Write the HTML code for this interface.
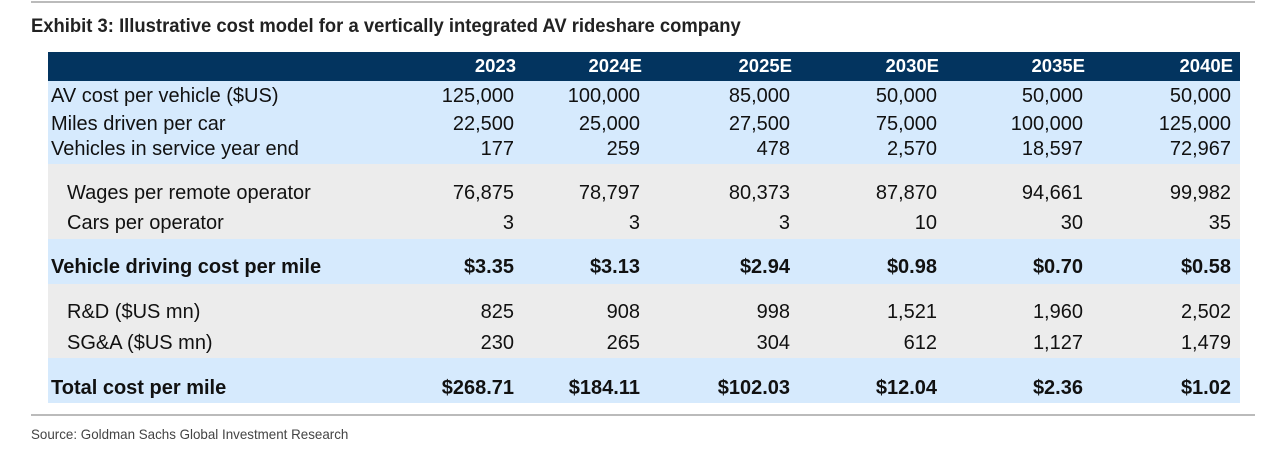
<!DOCTYPE html>
<html><head><meta charset="utf-8"><style>
body{margin:0;width:1265px;height:449px;background:#fff;position:relative;overflow:hidden;font-family:"Liberation Sans",sans-serif}
.abs{position:absolute}
.t{position:absolute;font-size:20px;color:#111;white-space:nowrap;line-height:1}
.r{text-align:right}
.b{font-weight:bold}
.h{color:#fff;font-weight:bold;font-size:18.5px}
</style></head><body>
<div class="abs" style="left:31px;top:1px;width:1224px;height:2px;background:#bbb"></div>
<div class="abs" style="left:31px;top:16px;font-size:19px;font-weight:bold;color:#222;white-space:nowrap;transform:scaleX(0.97);transform-origin:left top">Exhibit 3: Illustrative cost model for a vertically integrated AV rideshare company</div>
<div class="abs" style="left:48px;top:52px;width:1192px;height:29px;background:#03345f"></div>
<div class="abs" style="left:48px;top:81px;width:1192px;height:83px;background:#d6eafd"></div>
<div class="abs" style="left:48px;top:164px;width:1192px;height:75px;background:#ececec"></div>
<div class="abs" style="left:48px;top:239px;width:1192px;height:45px;background:#d6eafd"></div>
<div class="abs" style="left:48px;top:284px;width:1192px;height:74px;background:#ececec"></div>
<div class="abs" style="left:48px;top:358px;width:1192px;height:45px;background:#d6eafd"></div>
<div class="abs" style="left:31px;top:414px;width:1224px;height:2px;background:#bbb"></div>
<div class="abs" style="left:31px;top:426px;font-size:14px;color:#444;white-space:nowrap;transform:scaleX(0.955);transform-origin:left top">Source: Goldman Sachs Global Investment Research</div>
<div id="tbl"></div>
<script>
const years=["2023","2024E","2025E","2030E","2035E","2040E"];
const labels=["AV cost per vehicle ($US)","Miles driven per car","Vehicles in service year end","Wages per remote operator","Cars per operator","Vehicle driving cost per mile","R&D ($US mn)","SG&A ($US mn)","Total cost per mile"];
const r1=["125,000","100,000","85,000","50,000","50,000","50,000"];
const r2=["22,500","25,000","27,500","75,000","100,000","125,000"];
const r3=["177","259","478","2,570","18,597","72,967"];
const r4=["76,875","78,797","80,373","87,870","94,661","99,982"];
const r5=["3","3","3","10","30","35"];
const r6=["$3.35","$3.13","$2.94","$0.98","$0.70","$0.58"];
const r7=["825","908","998","1,521","1,960","2,502"];
const r8=["230","265","304","612","1,127","1,479"];
const r9=["$268.71","$184.11","$102.03","$12.04","$2.36","$1.02"];
const rows=[r1,r2,r3,r4,r5,r6,r7,r8,r9];
const ys=[97,125,150,194,224,268,313,344,389];
const indent=[0,0,0,1,1,0,1,1,0];
const bold=[0,0,0,0,0,1,0,0,1];
const rights=[514,640,790,937,1083,1231];
const tb=document.getElementById('tbl');
years.forEach((y,i)=>{const d=document.createElement('div');d.className='t h r';


d.style.right=(1265-rights[i]-2)+'px';d.style.top='57px';d.textContent=y;tb.appendChild(d);});
labels.forEach((l,k)=>{const d=document.createElement('div');d.className='t'+(bold[k]?' b':'');


d.style.left=(indent[k]?67:51)+'px';d.style.top=(ys[k]-11)+'px';d.textContent=l;tb.appendChild(d);
rows[k].forEach((v,i)=>{const c=document.createElement('div');c.className='t r'+(bold[k]?' b':'');


c.style.right=(1265-rights[i])+'px';c.style.top=(ys[k]-11)+'px';c.textContent=v;tb.appendChild(c);});});
</script>
</body></html>
